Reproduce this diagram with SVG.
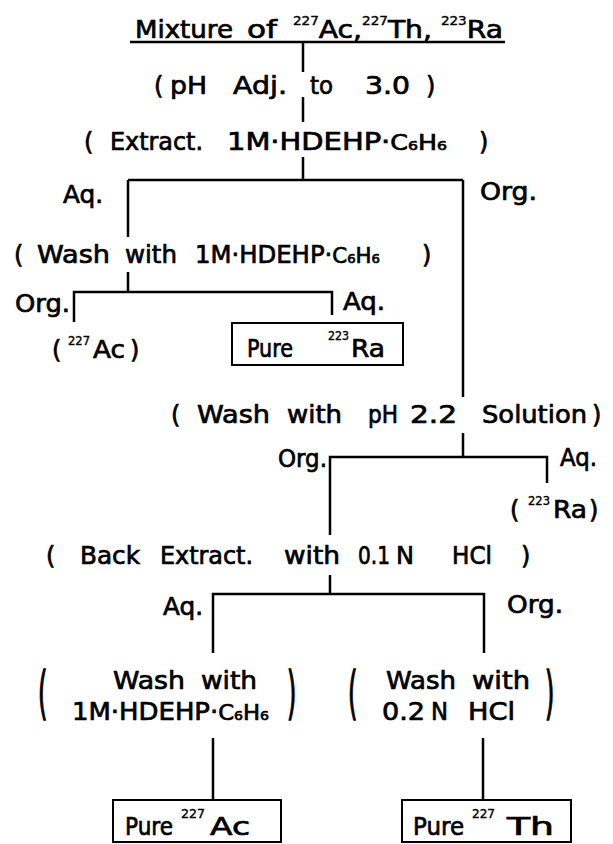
<svg xmlns="http://www.w3.org/2000/svg" width="613" height="844" viewBox="0 0 613 844">
<style>
text{font-family:"DejaVu Sans","Liberation Sans",sans-serif;fill:#000;stroke:#000;stroke-width:0.7}
.t{font-size:24px}
.tt{font-size:25px}
.s{font-size:12px;stroke-width:0.4}
.c{font-size:21px}
.sb{font-size:13px}
.ln{stroke:#000;stroke-width:2.5;fill:none}
.bx{stroke:#000;stroke-width:2;fill:none}
</style>
<rect width="613" height="844" fill="#fff"/>
<g id="connectors" class="ln">
<path d="M303 42V72M303 97V122M303 157V180"/>
<path d="M128 180H463"/>
<path d="M128 180V237M128 272V292"/>
<path d="M74 322V292H332V315"/>
<path d="M463 180V397"/>
<path d="M463 433V457"/>
<path d="M330 535V457H547V483"/>
<path d="M330 575V594"/>
<path d="M213 653V594H484V653"/>
<path d="M213 738V800"/>
<path d="M483 738V800"/>
</g>
<g id="title">
<text class="tt" x="135" y="38" textLength="98" lengthAdjust="spacingAndGlyphs">Mixture</text>
<text class="tt" x="247" y="38" textLength="30" lengthAdjust="spacingAndGlyphs">of</text>
<text class="tt" x="293" y="38" textLength="210" lengthAdjust="spacingAndGlyphs"><tspan class="s" dy="-13">227</tspan><tspan dy="13">Ac,</tspan><tspan class="s" dy="-13">227</tspan><tspan dy="13">Th, </tspan><tspan class="s" dy="-13">223</tspan><tspan dy="13">Ra</tspan></text>
<path class="ln" d="M130 42H505"/>
</g>
<g id="ph-adjust">
<text class="t" x="154" y="94">(</text>
<text class="t" x="170" y="94" textLength="37" lengthAdjust="spacingAndGlyphs">pH</text>
<text class="t" x="233" y="94" textLength="54" lengthAdjust="spacingAndGlyphs">Adj.</text>
<text class="t" x="310" y="94" textLength="23" lengthAdjust="spacingAndGlyphs">to</text>
<text class="t" x="365" y="94" textLength="45" lengthAdjust="spacingAndGlyphs">3.0</text>
<text class="t" x="426" y="94">)</text>
</g>
<g id="extract">
<text class="t" x="84" y="150">(</text>
<text class="t" x="110" y="150" textLength="93" lengthAdjust="spacingAndGlyphs">Extract.</text>
<text class="t" x="227" y="150" textLength="220" lengthAdjust="spacingAndGlyphs">1M·HDEHP·<tspan class="c">C</tspan><tspan class="sb">6</tspan><tspan class="c">H</tspan><tspan class="sb">6</tspan></text>
<text class="t" x="479" y="150">)</text>
</g>
<g id="aq1"><text class="t" x="63" y="203" textLength="40" lengthAdjust="spacingAndGlyphs">Aq.</text></g>
<g id="org1"><text class="t" x="480" y="200" textLength="57" lengthAdjust="spacingAndGlyphs">Org.</text></g>
<g id="wash-hdehp-1">
<text class="t" x="14" y="263">(</text>
<text class="t" x="37" y="263" textLength="73" lengthAdjust="spacingAndGlyphs">Wash</text>
<text class="t" x="125" y="263" textLength="52" lengthAdjust="spacingAndGlyphs">with</text>
<text class="t" x="195" y="263" textLength="185" lengthAdjust="spacingAndGlyphs">1M·HDEHP·<tspan class="c">C</tspan><tspan class="sb">6</tspan><tspan class="c">H</tspan><tspan class="sb">6</tspan></text>
<text class="t" x="422" y="263">)</text>
</g>
<g id="org2"><text class="t" x="15" y="312" textLength="55" lengthAdjust="spacingAndGlyphs">Org.</text></g>
<g id="aq2"><text class="t" x="343" y="310" textLength="42" lengthAdjust="spacingAndGlyphs">Aq.</text></g>
<g id="ac227-a">
<text class="t" x="52" y="358">(</text>
<text class="s" x="68" y="345" textLength="22" lengthAdjust="spacingAndGlyphs">227</text>
<text class="t" x="93" y="358" textLength="32" lengthAdjust="spacingAndGlyphs">Ac</text>
<text class="t" x="130" y="358">)</text>
</g>
<g id="pure-ra">
<rect class="bx" x="232" y="323" width="171" height="42"/>
<text class="t" x="247" y="357" textLength="46" lengthAdjust="spacingAndGlyphs">Pure</text>
<text class="s" x="328" y="340" textLength="21" lengthAdjust="spacingAndGlyphs">223</text>
<text class="t" x="351" y="357" textLength="34" lengthAdjust="spacingAndGlyphs">Ra</text>
</g>
<g id="wash-ph">
<text class="t" x="171" y="423">(</text>
<text class="t" x="197" y="423" textLength="73" lengthAdjust="spacingAndGlyphs">Wash</text>
<text class="t" x="287" y="423" textLength="55" lengthAdjust="spacingAndGlyphs">with</text>
<text class="t" x="368" y="423" textLength="30" lengthAdjust="spacingAndGlyphs">pH</text>
<text class="t" x="410" y="423" textLength="47" lengthAdjust="spacingAndGlyphs">2.2</text>
<text class="t" x="482" y="423" textLength="105" lengthAdjust="spacingAndGlyphs">Solution</text>
<text class="t" x="592" y="423">)</text>
</g>
<g id="org3"><text class="t" x="278" y="467" textLength="49" lengthAdjust="spacingAndGlyphs">Org.</text></g>
<g id="aq3"><text class="t" x="560" y="466" textLength="37" lengthAdjust="spacingAndGlyphs">Aq.</text></g>
<g id="ra223">
<text class="t" x="510" y="518">(</text>
<text class="s" x="528" y="505" textLength="22" lengthAdjust="spacingAndGlyphs">223</text>
<text class="t" x="553" y="518" textLength="34" lengthAdjust="spacingAndGlyphs">Ra</text>
<text class="t" x="589" y="518">)</text>
</g>
<g id="back-extract">
<text class="t" x="46" y="564">(</text>
<text class="t" x="80" y="564" textLength="60" lengthAdjust="spacingAndGlyphs">Back</text>
<text class="t" x="160" y="564" textLength="93" lengthAdjust="spacingAndGlyphs">Extract.</text>
<text class="t" x="284" y="564" textLength="56" lengthAdjust="spacingAndGlyphs">with</text>
<text class="t" x="358" y="564" textLength="32" lengthAdjust="spacingAndGlyphs">0.1</text>
<text class="t" x="396" y="564" textLength="18" lengthAdjust="spacingAndGlyphs">N</text>
<text class="t" x="452" y="564" textLength="40" lengthAdjust="spacingAndGlyphs">HCl</text>
<text class="t" x="521" y="564">)</text>
</g>
<g id="aq4"><text class="t" x="163" y="615" textLength="40" lengthAdjust="spacingAndGlyphs">Aq.</text></g>
<g id="org4"><text class="t" x="507" y="613" textLength="56" lengthAdjust="spacingAndGlyphs">Org.</text></g>
<g id="wash-hdehp-2">
<text class="t" transform="translate(38 712) scale(1 2.4)">(</text>
<text class="t" x="113" y="689" textLength="72" lengthAdjust="spacingAndGlyphs">Wash</text>
<text class="t" x="201" y="689" textLength="56" lengthAdjust="spacingAndGlyphs">with</text>
<text class="t" x="72" y="720" textLength="197" lengthAdjust="spacingAndGlyphs">1M·HDEHP·<tspan class="c">C</tspan><tspan class="sb">6</tspan><tspan class="c">H</tspan><tspan class="sb">6</tspan></text>
<text class="t" transform="translate(287 712) scale(1 2.4)">)</text>
</g>
<g id="wash-hcl">
<text class="t" transform="translate(348 712) scale(1 2.4)">(</text>
<text class="t" x="386" y="689" textLength="70" lengthAdjust="spacingAndGlyphs">Wash</text>
<text class="t" x="472" y="689" textLength="58" lengthAdjust="spacingAndGlyphs">with</text>
<text class="t" x="382" y="720" textLength="43" lengthAdjust="spacingAndGlyphs">0.2</text>
<text class="t" x="431" y="720" textLength="17" lengthAdjust="spacingAndGlyphs">N</text>
<text class="t" x="468" y="720" textLength="47" lengthAdjust="spacingAndGlyphs">HCl</text>
<text class="t" transform="translate(545 712) scale(1 2.4)">)</text>
</g>
<g id="pure-ac">
<rect class="bx" x="113" y="800" width="168" height="42"/>
<text class="t" x="125" y="835" textLength="48" lengthAdjust="spacingAndGlyphs">Pure</text>
<text class="s" x="181" y="818" textLength="24" lengthAdjust="spacingAndGlyphs">227</text>
<text class="t" x="210" y="835" textLength="40" lengthAdjust="spacingAndGlyphs">Ac</text>
</g>
<g id="pure-th">
<rect class="bx" x="402" y="800" width="169" height="42"/>
<text class="t" x="413" y="835" textLength="51" lengthAdjust="spacingAndGlyphs">Pure</text>
<text class="s" x="472" y="818" textLength="23" lengthAdjust="spacingAndGlyphs">227</text>
<text class="t" x="507" y="835" textLength="47" lengthAdjust="spacingAndGlyphs">Th</text>
</g>
</svg>
